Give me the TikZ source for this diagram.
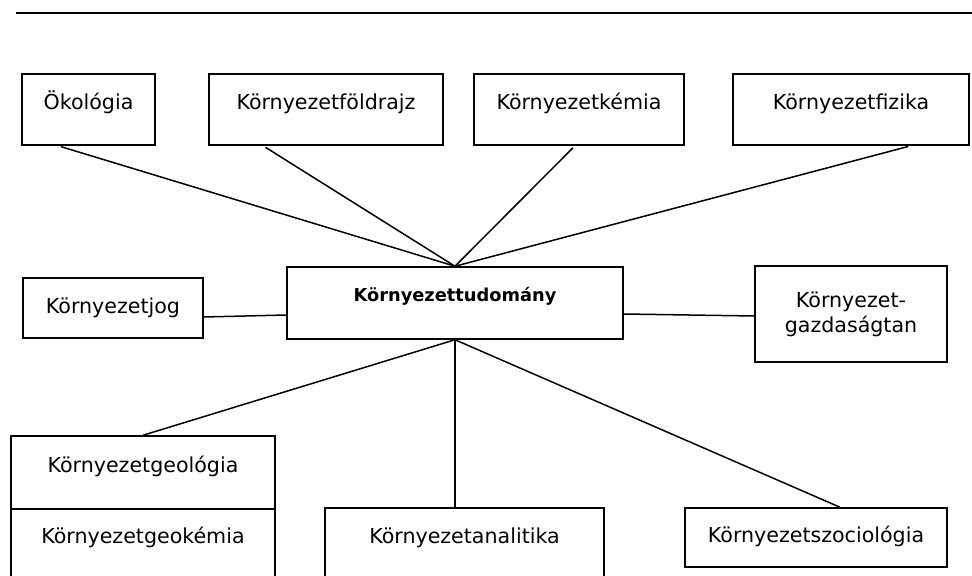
\documentclass[tikz,border=0pt]{standalone}
\usepackage{fontspec}
\setmainfont{DejaVu Sans}
\usepackage{tikz}

\begin{document}
\begin{tikzpicture}[x=0.5pt,y=-0.5pt,
    box/.style={draw, line width=0.75pt, inner sep=0pt, font=\fontsize{10.3}{12.5}\selectfont},
    link/.style={line width=0.75pt}]
  \useasboundingbox (0,0) rectangle (972,576);
  \clip (0,0) rectangle (972,576);
  \draw[line width=1.2pt] (16,13) -- (972,13);
  % top row
  \node[box, anchor=base, minimum width=66.5pt, text height=18pt, text depth=17.5pt] (okol) at (88.5,110) {Ökológia};
  \node[box, anchor=base, minimum width=117pt, text height=18pt, text depth=17.5pt] (foldr) at (326,110) {Környezetföldrajz};
  \node[box, anchor=base, minimum width=105pt, text height=18pt, text depth=17.5pt] (kemia) at (579,110) {Környezetkémia};
  \node[box, anchor=base, minimum width=118pt, text height=18pt, text depth=17.5pt] (fizika) at (851,110) {Környezetfizika};
  % middle row
  \node[box, minimum width=90pt, minimum height=30pt] (jog) at (113,308) {Környezetjog};
  \node[box, anchor=base, minimum width=168pt, text height=17.5pt, text depth=18.5pt, font=\fontsize{8.9}{12}\selectfont\bfseries] (tud) at (455,302) {Környezettudomány};
  \node[box, minimum width=96pt, minimum height=48pt, align=center] (gazd) at (851,314) {Környezet-\\gazdaságtan};
  % bottom row
  \node[box, anchor=base, minimum width=132pt, text height=18pt, text depth=18.5pt] (geol) at (143,472) {Környezetgeológia};
  \node[box, anchor=base, minimum width=132pt, text height=17pt, text depth=40pt] (geok) at (143,543) {Környezetgeokémia};
  \node[box, anchor=base, minimum width=139.5pt, text height=17.5pt, text depth=40pt] (analit) at (464.5,543) {Környezetanalitika};
  \node[box, anchor=base, minimum width=131pt, text height=17pt, text depth=12.5pt] (szoc) at (816,542) {Környezetszociológia};

  \draw[link, shorten <=1.5pt] ([xshift=-15.25pt]okol.south) -- (tud.north);
  \draw[link, shorten <=1.5pt] ([xshift=-31.5pt]foldr.south) -- (tud.north);
  \draw[link, shorten <=1.5pt] ([xshift=-2pt]kemia.south) -- (tud.north);
  \draw[link, shorten <=1.5pt] ([xshift=30pt]fizika.south) -- (tud.north);
  \draw[link] ([yshift=-4.5pt]jog.east) -- ([yshift=-6pt]tud.west);
  \draw[link] ([yshift=-5.5pt]tud.east) -- ([yshift=-1pt]gazd.west);
  \draw[link] (tud.south) -- (geol.north);
  \draw[link] (tud.south) -- (tud.south |- analit.north);
  \draw[link] (tud.south) -- ([xshift=12pt]szoc.north);
\end{tikzpicture}
\end{document}
